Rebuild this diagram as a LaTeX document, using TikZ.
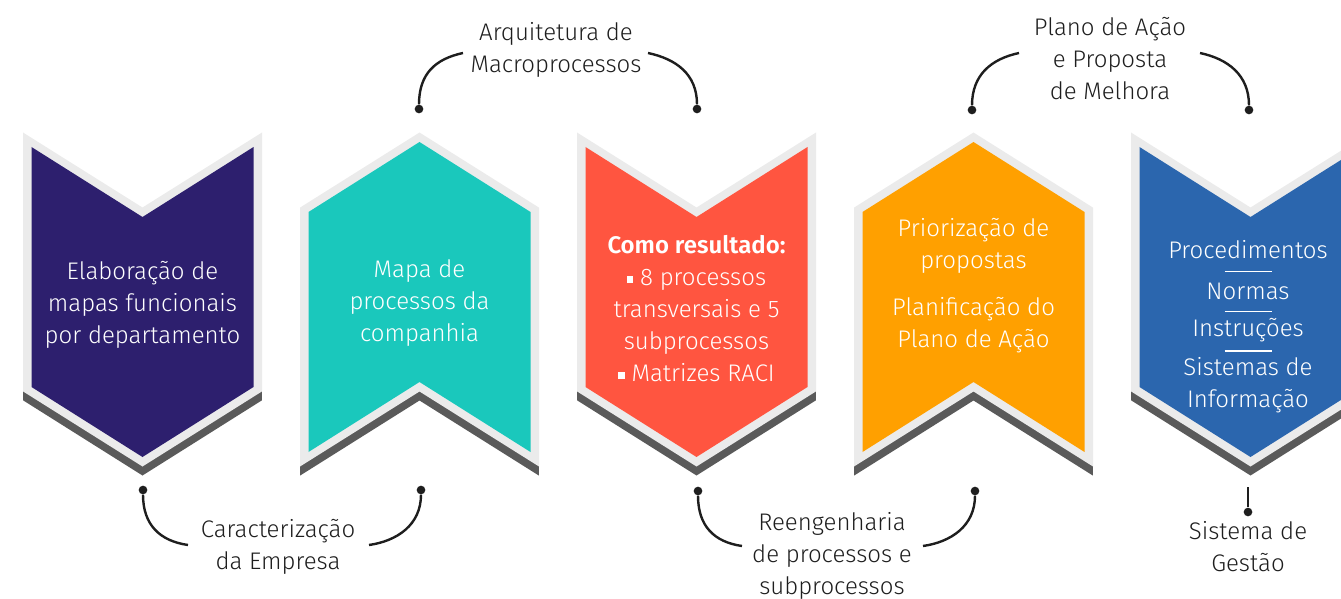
\documentclass[tikz,border=0pt]{standalone}
\usepackage{fontspec}
\setmainfont{Fira Sans Light}[BoldFont=Fira Sans SemiBold]
\usetikzlibrary{positioning, calc}
\definecolor{purpleA}{HTML}{2D1F6E}
\definecolor{tealB}{HTML}{1AC8BC}
\definecolor{redC}{HTML}{FF5540}
\definecolor{orangeD}{HTML}{FFA000}
\definecolor{blueE}{HTML}{2B66AE}
\definecolor{rimgrey}{HTML}{EBEBEB}
\definecolor{shadowgrey}{HTML}{5A5A5A}
\definecolor{inkgrey}{HTML}{1E1E1E}
\newcommand{\sqbullet}{\raisebox{2.2pt}{\rule{5pt}{5pt}}}
\tikzset{
  pics/chevdown/.style={code={
    \fill[shadowgrey] (-119.3,141.5) -- (0,216.5) -- (119.3,141.5) -- (119.3,400.4) -- (0,475.5) -- (-119.3,400.4) -- cycle;
    \fill[rimgrey] (-119.5,132.5) -- (0,207.5) -- (119.5,132.5) -- (119.5,391.4) -- (0,466.5) -- (-119.5,391.4) -- cycle;
    \fill[#1] (-111,147) -- (0,217) -- (111,147) -- (111,387) -- (0,457) -- (-111,387) -- cycle;
  }},
  pics/chevup/.style={code={
    \fill[shadowgrey] (-119.3,216.6) -- (0,141.5) -- (119.3,216.6) -- (119.3,475.5) -- (0,400.5) -- (-119.3,475.5) -- cycle;
    \fill[rimgrey] (-119.5,207.6) -- (0,132.5) -- (119.5,207.6) -- (119.5,466.5) -- (0,391.5) -- (-119.5,466.5) -- cycle;
    \fill[#1] (-111,212) -- (0,142) -- (111,212) -- (111,452) -- (0,382) -- (-111,452) -- cycle;
  }},
  boxtext/.style={text=white, align=center, inner sep=0pt, font=\fontsize{18}{24}\selectfont},
  lbl/.style={text=inkgrey, align=center, font=\fontsize{18}{24}\selectfont},
  dot/.style={circle, fill=inkgrey, inner sep=0pt, minimum size=6.5pt},
  link/.style={draw=inkgrey, line width=1.8pt},
  sepline/.style={draw=white, line width=0.8pt}
}
\begin{document}
\begin{tikzpicture}[x=0.75pt, y=-0.75pt]
\useasboundingbox (0,0) rectangle (1341,599);

% Chevrons
\pic at (142.5,0) {chevdown=purpleA};
\pic at (419.5,0) {chevup=tealB};
\pic at (696.5,0) {chevdown=redC};
\pic at (973.5,0) {chevup=orangeD};
\pic at (1250.5,0) {chevdown=blueE};

% Texts inside
\node (elab) [boxtext] at (142.5,305) {Elaboração de\\mapas funcionais\\por departamento};
\node (mapa) [boxtext] at (419.5,303) {Mapa de\\processos da\\companhia};
\node (como) [boxtext] at (696.5,309) {\textbf{Como resultado:}\\\sqbullet\ 8 processos\\transversais e 5\\subprocessos\\\sqbullet\ Matrizes RACI};
\node (prior) [boxtext] at (973.5,285.5) {Priorização de\\propostas\\[11pt]Planificação do\\Plano de Ação};
\node (proc) [boxtext] at (1248,250) {Procedimentos};
\node (normas) [boxtext] at (1248,291) {Normas};
\node (instr) [boxtext] at (1248,330) {Instruções};
\node (sist) [boxtext] at (1248,385.5) {Sistemas de\\Informação};
\draw[sepline] (1224.5,271.5) -- ++(47,0);
\draw[sepline] (1224.5,311.5) -- ++(47,0);
\draw[sepline] (1224.5,351) -- ++(47,0);

% Labels
\node (arq) [lbl] at (556,50) {Arquitetura de\\Macroprocessos};
\node (plano) [lbl] at (1110,58.5) {Plano de Ação\\e Proposta\\de Melhora};
\node (carac) [lbl] at (278,546.5) {Caracterização\\da Empresa};
\node (reen) [lbl] at (832,555.5) {Reengenharia\\de processos e\\subprocessos};
\node (gestao) [lbl] at (1248,547) {Sistema de\\Gestão};

% Dots
\node (d1) [dot] at (419,109) {};
\node (d2) [dot] at (697,109) {};
\node (d3) [dot] at (972,110) {};
\node (d4) [dot] at (1249,110) {};
\node (d5) [dot] at (143,490) {};
\node (d6) [dot] at (421,490) {};
\node (d7) [dot] at (698,491) {};
\node (d8) [dot] at (975,491) {};
\node (d9) [dot] at (1248,512) {};

% Arc ends
\coordinate (arqL) at (463,53);
\coordinate (arqR) at (648,53);
\coordinate (planoL) at (1019,53);
\coordinate (planoR) at (1200,53);
\coordinate (caracL) at (188,545);
\coordinate (caracR) at (369,545);
\coordinate (reenL) at (742,546);
\coordinate (reenR) at (923,546);
\coordinate (gestaoT) at (1248,487);

% Connectors
\draw [link] (d1) .. controls +(0,-35) and +(-28,6) .. (arqL);
\draw [link] (arqR) .. controls +(28,6) and +(0,-35) .. (d2);
\draw [link] (d3) .. controls +(0,-35) and +(-28,6) .. (planoL);
\draw [link] (planoR) .. controls +(28,6) and +(0,-35) .. (d4);
\draw [link] (d5) .. controls +(0,35) and +(-28,-4) .. (caracL);
\draw [link] (caracR) .. controls +(28,-4) and +(0,35) .. (d6);
\draw [link] (d7) .. controls +(0,35) and +(-28,-4) .. (reenL);
\draw [link] (reenR) .. controls +(28,-4) and +(0,35) .. (d8);
\draw [link] (gestaoT) -- (d9);
\end{tikzpicture}
\end{document}
